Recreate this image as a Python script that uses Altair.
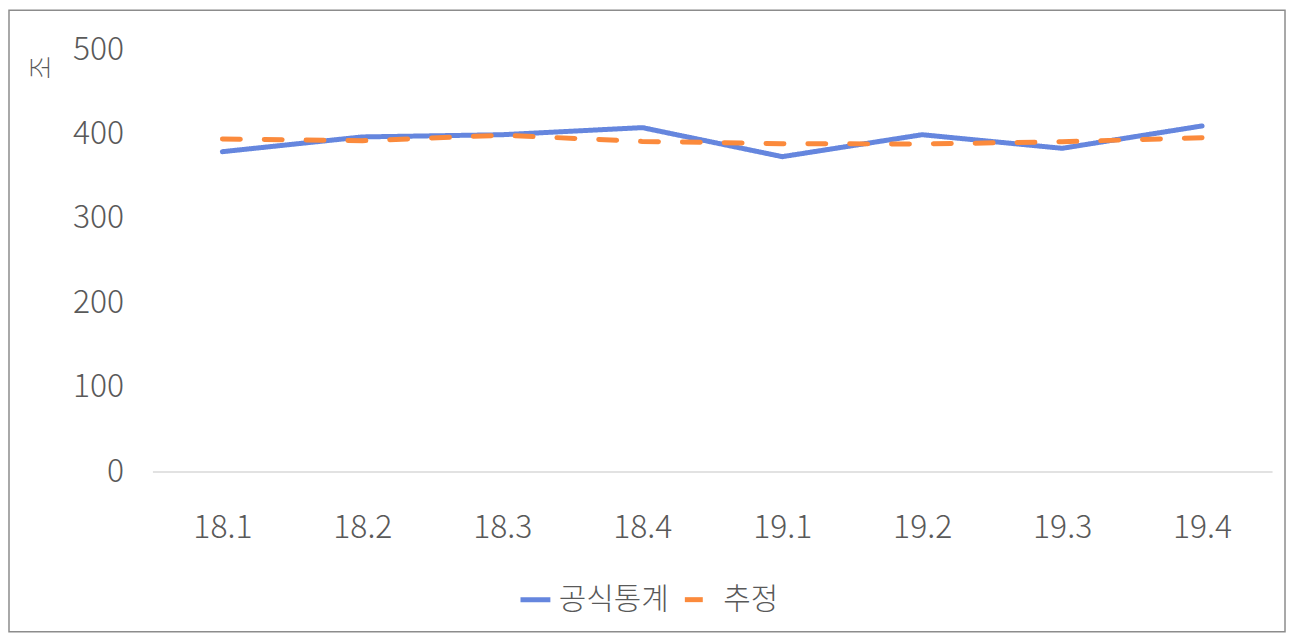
import altair as alt
import pandas as pd

quarters = ["18.1", "18.2", "18.3", "18.4", "19.1", "19.2", "19.3", "19.4"]
official = [378.5, 396, 398.6, 407, 372.6, 398.6, 382.5, 409]
estimate = [393.5, 391.5, 398, 390.7, 388, 387.6, 390.3, 395]
series_names = ["공식통계", "추정"]
y_ticks = [0, 100, 200, 300, 400, 500]

rows = []
for q, a, b in zip(quarters, official, estimate):
    rows.append({"q": q, "series": series_names[0], "v": a})
    rows.append({"q": q, "series": series_names[1], "v": b})
df = pd.DataFrame(rows)

FONT = "Noto Sans CJK KR"
GRAY = "#595959"
W, H = 1124, 424

legend_kw = dict(title=None, orient="none", direction="horizontal",
                 legendX=367, legendY=535, symbolType="stroke",
                 symbolSize=900, symbolStrokeWidth=5,
                 labelFont=FONT, labelFontSize=30, labelColor=GRAY, labelFontWeight=300,
                 labelOffset=6, columnPadding=5, padding=0)

lines = alt.Chart(df).mark_line(strokeWidth=5, strokeCap="round", strokeJoin="round").encode(
    x=alt.X("q:N", sort=quarters, scale=alt.Scale(type="point", padding=0.5),
            axis=alt.Axis(title=None, labelAngle=0, labelFontSize=32, labelFont=FONT,
                          labelFontWeight=300,
                          labelColor=GRAY, labelPadding=41, ticks=False,
                          domainColor="#d9d9d9", domainWidth=1.5, grid=False)),
    y=alt.Y("v:Q", scale=alt.Scale(domain=[0, 500], nice=False),
            axis=alt.Axis(values=y_ticks, title="조", titleAngle=270, titleX=-111, titleY=18,
                          titleAlign="center", titleBaseline="middle", titleFontSize=26,
                          titleFont=FONT, titleColor=GRAY, titleFontWeight=300,
                          labelFontSize=32, labelFont=FONT, labelColor=GRAY, labelFontWeight=300,
                          labelPadding=29, ticks=False, domain=False, grid=False)),
    color=alt.Color("series:N", sort=series_names,
                    scale=alt.Scale(domain=series_names, range=["#6586de", "#fb8a3c"]),
                    legend=alt.Legend(**legend_kw)),
    strokeDash=alt.StrokeDash("series:N", sort=series_names,
                              scale=alt.Scale(domain=series_names, range=[[1, 0], [18, 24]]),
                              legend=alt.Legend(**legend_kw)),
)

border = alt.Chart(pd.DataFrame({"a": [0]})).mark_rect(
    fill=None, stroke="#8c8c8c", strokeWidth=1.5, clip=False
).encode(x=alt.value(-144), x2=alt.value(1137), y=alt.value(-39), y2=alt.value(585))

chart = alt.layer(border, lines).properties(
    width=W, height=H,
    background="white",
    autosize=alt.AutoSizeParams(type="none"),
    padding={"left": 145, "top": 40, "right": 14, "bottom": 162},
).configure_view(stroke=None, strokeWidth=0)

chart.save("out.html", embed_options={"renderer": "svg", "actions": False})
